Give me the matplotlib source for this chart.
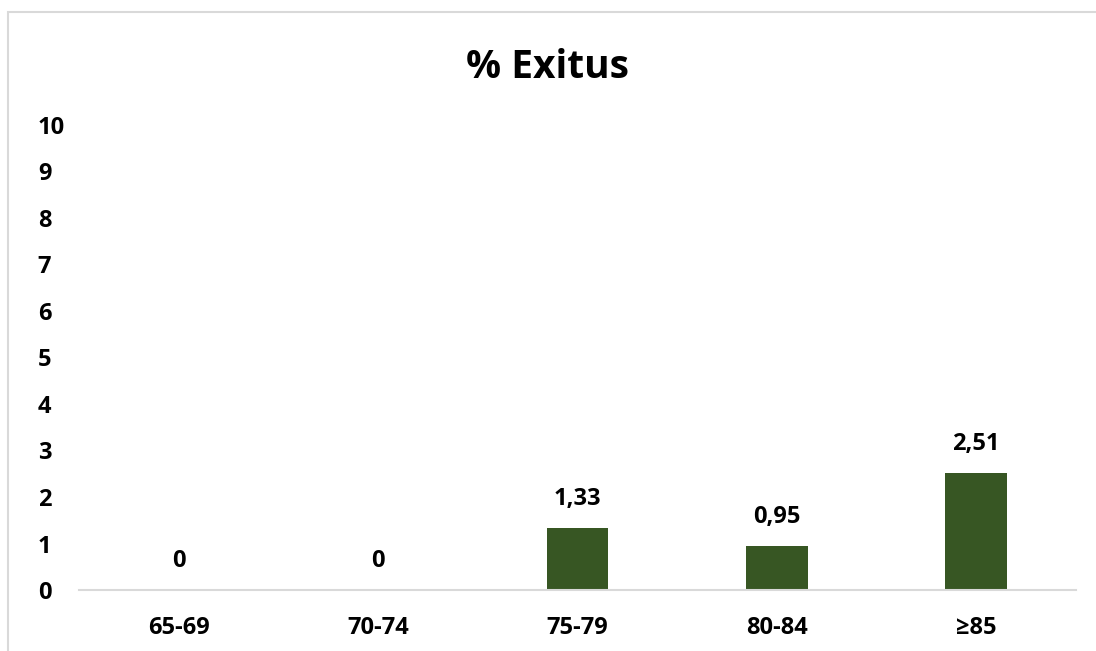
import matplotlib.pyplot as plt
from matplotlib.patches import Rectangle

categories = ["65-69", "70-74", "75-79", "80-84", "≥85"]
values = [0, 0, 1.33, 0.95, 2.51]
labels = ["0", "0", "1,33", "0,95", "2,51"]

plt.rcParams['font.family'] = ['Open Sans', 'DejaVu Sans']

fig = plt.figure(figsize=(10.96, 6.51), dpi=100)
ax = fig.add_axes([0.0725, 0.0937, 0.909, 0.7143])

x = range(len(categories))
bars = ax.bar(x, values, width=0.31, color='#375623', zorder=2)

for i, (v, t) in enumerate(zip(values, labels)):
    ax.annotate(t, (i, v), xytext=(0, 21), textcoords='offset points',
                ha='center', va='center', fontsize=17, fontweight='bold')

ax.set_xlim(-0.5, len(categories) - 0.5)
ax.set_ylim(0, 10)
ax.set_yticks(range(0, 11))
ax.set_xticks(list(x))
ax.set_xticklabels(categories, fontsize=17, fontweight='bold')
for lbl in ax.get_yticklabels():
    lbl.set_fontsize(17)
    lbl.set_fontweight('bold')

for s in ['top', 'right', 'left']:
    ax.spines[s].set_visible(False)
ax.spines['bottom'].set_color('#d9d9d9')
ax.spines['bottom'].set_linewidth(1.5)
ax.tick_params(axis='both', length=0)
ax.tick_params(axis='x', pad=19)
ax.tick_params(axis='y', pad=30)
for lbl in ax.get_yticklabels():
    lbl.set_horizontalalignment('left')

fig.text(0.5, 0.897, "% Exitus", ha='center', va='center', fontsize=28, fontweight='bold')

fig.patches.append(Rectangle((8 / 1096, -0.1), 1.2, 1 - 12 / 651 + 0.1,
                             transform=fig.transFigure, fill=False,
                             edgecolor='#d9d9d9', linewidth=1.5))

plt.savefig('out.png', dpi=100)
